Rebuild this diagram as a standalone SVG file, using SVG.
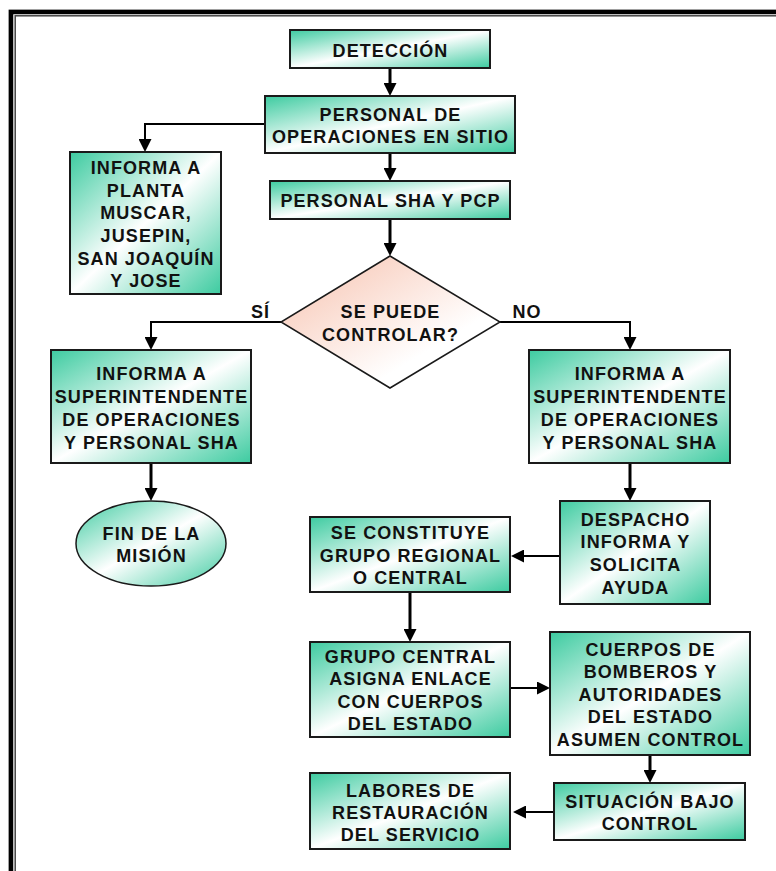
<svg xmlns="http://www.w3.org/2000/svg" width="776" height="871" viewBox="0 0 776 871">
<defs>
<linearGradient id="g" x1="0" y1="0" x2="1" y2="1">
<stop offset="0" stop-color="#3DCBA0"/>
<stop offset="0.5" stop-color="#ffffff"/>
<stop offset="1" stop-color="#3DCBA0"/>
</linearGradient>
<linearGradient id="d" x1="0" y1="0.2" x2="0.7" y2="0.9">
<stop offset="0" stop-color="#F8C9B8"/>
<stop offset="0.85" stop-color="#ffffff"/>
</linearGradient>
<marker id="ah" viewBox="0 0 13 13" refX="5" refY="6.5" markerWidth="13" markerHeight="13" markerUnits="userSpaceOnUse" orient="auto">
<path d="M0,0 L13,6.5 L0,13 z" fill="#000"/>
</marker>
<style>
.box{fill:url(#g);stroke:#1a1a1a;stroke-width:2}
.dia{fill:url(#d);stroke:#1a1a1a;stroke-width:1.5}
.t{font-family:"Liberation Sans",Arial,sans-serif;font-weight:bold;font-size:18px;letter-spacing:1.1px;fill:#111;text-anchor:middle}
.c{fill:none;stroke:#000;marker-end:url(#ah)}
.w3{stroke-width:3}
.w2{stroke-width:2}
</style>
</defs>
<rect width="776" height="871" fill="#fff"/>
<g id="frame" fill="none">
<rect x="9" y="10" width="800" height="900" stroke="#aaa" stroke-width="1"/>
<rect x="11" y="12" width="800" height="900" stroke="#000" stroke-width="4.5"/>
<rect x="15.2" y="15.8" width="800" height="900" stroke="#444" stroke-width="1.5"/>
</g>
<g id="connectors">
<path class="c w3" d="M390,68 V88"/>
<path class="c w3" d="M390,153 V173"/>
<path class="c w2" d="M265,124 H145 V144"/>
<path class="c w3" d="M390,219 V248"/>
<path class="c w2" d="M281,322 H151 V342"/>
<path class="c w2" d="M500,322 H630 V342"/>
<path class="c w3" d="M151,463 V493"/>
<path class="c w3" d="M630,463 V493"/>
<path class="c w2" d="M560,556 H519"/>
<path class="c w3" d="M410,592 V634"/>
<path class="c w2" d="M510,688 H542"/>
<path class="c w3" d="M650,755 V775"/>
<path class="c w2" d="M554,812 H521"/>
<text class="t" x="260.5" y="318">SÍ</text>
<text class="t" x="527" y="318">NO</text>
</g>
<g id="n1">
<rect class="box" x="290" y="30" width="200" height="38"/>
<text class="t" x="390.5" y="56.5">DETECCIÓN</text>
</g>
<g id="n2">
<rect class="box" x="265" y="96" width="250" height="57"/>
<text class="t" x="390.5" y="120.5">PERSONAL DE</text>
<text class="t" x="390.5" y="142.7">OPERACIONES EN SITIO</text>
</g>
<g id="n3">
<rect class="box" x="270" y="181" width="240" height="38"/>
<text class="t" x="390.5" y="206.5">PERSONAL SHA Y PCP</text>
</g>
<g id="n4">
<rect class="box" x="70" y="152" width="151" height="142"/>
<text class="t" x="146" y="174">INFORMA A</text>
<text class="t" x="146" y="196.5">PLANTA</text>
<text class="t" x="146" y="219">MUSCAR,</text>
<text class="t" x="146" y="241.5">JUSEPIN,</text>
<text class="t" x="146" y="264.5">SAN JOAQUÍN</text>
<text class="t" x="146" y="287">Y JOSE</text>
</g>
<g id="n5">
<polygon class="dia" points="390,256 500,322 390,388 281,322"/>
<text class="t" x="390.5" y="318">SE PUEDE</text>
<text class="t" x="390.5" y="341">CONTROLAR?</text>
</g>
<g id="n6">
<rect class="box" x="51" y="350" width="200" height="113"/>
<text class="t" x="151.5" y="379.5">INFORMA A</text>
<text class="t" x="151.5" y="402.5">SUPERINTENDENTE</text>
<text class="t" x="151.5" y="425.5">DE OPERACIONES</text>
<text class="t" x="151.5" y="448.5">Y PERSONAL SHA</text>
</g>
<g id="n7">
<ellipse class="box" cx="151" cy="543.5" rx="75" ry="42.5" style="stroke-width:1.5"/>
<text class="t" x="151.5" y="539.5">FIN DE LA</text>
<text class="t" x="151.5" y="562">MISIÓN</text>
</g>
<g id="n8">
<rect class="box" x="529" y="350" width="201" height="113"/>
<text class="t" x="630" y="379.5">INFORMA A</text>
<text class="t" x="630" y="402.5">SUPERINTENDENTE</text>
<text class="t" x="630" y="425.5">DE OPERACIONES</text>
<text class="t" x="630" y="448.5">Y PERSONAL SHA</text>
</g>
<g id="n9">
<rect class="box" x="560" y="501" width="150" height="103"/>
<text class="t" x="635.5" y="525.5">DESPACHO</text>
<text class="t" x="635.5" y="548.3">INFORMA Y</text>
<text class="t" x="635.5" y="571">SOLICITA</text>
<text class="t" x="635.5" y="593.5">AYUDA</text>
</g>
<g id="n10">
<rect class="box" x="310" y="517" width="200" height="75"/>
<text class="t" x="410.5" y="538.5">SE CONSTITUYE</text>
<text class="t" x="410.5" y="561.5">GRUPO REGIONAL</text>
<text class="t" x="410.5" y="583.5">O CENTRAL</text>
</g>
<g id="n11">
<rect class="box" x="310" y="642" width="200" height="95"/>
<text class="t" x="410.5" y="662.7">GRUPO CENTRAL</text>
<text class="t" x="410.5" y="685">ASIGNA ENLACE</text>
<text class="t" x="410.5" y="707.7">CON CUERPOS</text>
<text class="t" x="410.5" y="730">DEL ESTADO</text>
</g>
<g id="n12">
<rect class="box" x="550" y="632" width="200" height="123"/>
<text class="t" x="650.5" y="656">CUERPOS DE</text>
<text class="t" x="650.5" y="678.3">BOMBEROS Y</text>
<text class="t" x="650.5" y="700.7">AUTORIDADES</text>
<text class="t" x="650.5" y="723.3">DEL ESTADO</text>
<text class="t" x="650.5" y="745.7">ASUMEN CONTROL</text>
</g>
<g id="n13">
<rect class="box" x="554" y="783" width="191" height="57"/>
<text class="t" x="650" y="807.7">SITUACIÓN BAJO</text>
<text class="t" x="650" y="830">CONTROL</text>
</g>
<g id="n14">
<rect class="box" x="310" y="773" width="200" height="76"/>
<text class="t" x="410.5" y="796.7">LABORES DE</text>
<text class="t" x="410.5" y="819.3">RESTAURACIÓN</text>
<text class="t" x="410.5" y="841">DEL SERVICIO</text>
</g>
</svg>
